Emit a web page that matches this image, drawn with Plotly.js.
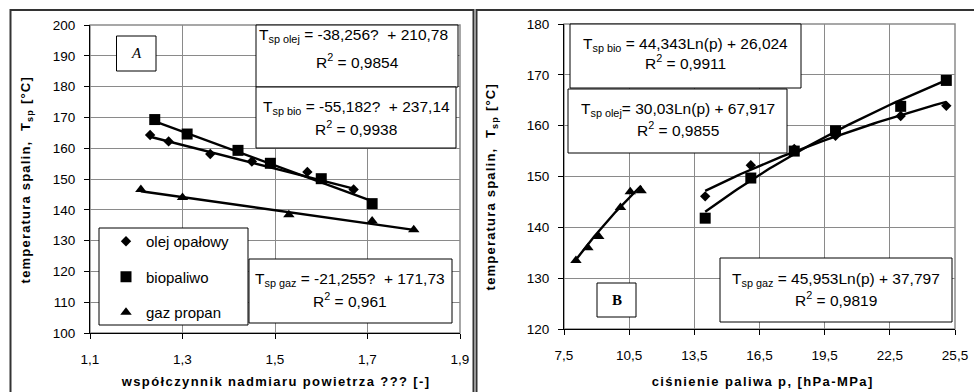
<!DOCTYPE html>
<html><head><meta charset="utf-8">
<script src="https://cdn.plot.ly/plotly-3.0.1.min.js"></script>
<style>
html,body{margin:0;padding:0;background:#fff;}
#chart{width:974px;height:392px;}
.annotation[data-index="0"] text, .annotation[data-index="1"] text{letter-spacing:1.2px;}
.annotation[data-index="2"] text, .annotation[data-index="3"] text{letter-spacing:1.4px;}
</style>
</head><body><div id="chart"></div>
<script>
// ---------- data ----------
const seriesNames = ['olej opałowy', 'biopaliwo', 'gaz propan'];

// panel A: excess air ratio vs flue gas temperature
const alphaOlej = [1.23, 1.27, 1.36, 1.45, 1.57, 1.67];
const tempOlejA = [164.3, 162.2, 158.1, 155.7, 152.3, 146.6];
const alphaBio  = [1.24, 1.31, 1.42, 1.49, 1.60, 1.71];
const tempBioA  = [169.3, 164.6, 159.3, 155.1, 150.1, 142.0];
const alphaGaz  = [1.21, 1.30, 1.53, 1.71, 1.80];
const tempGazA  = [146.6, 144.0, 138.4, 136.4, 133.5];

// panel B: fuel pressure vs flue gas temperature
const presOlej = [14.0, 16.1, 18.1, 20.0, 23.0, 25.1];
const tempOlejB = [146.1, 152.2, 155.4, 158.0, 161.9, 163.9];
const presBio  = [14.0, 16.1, 18.1, 20.0, 23.0, 25.1];
const tempBioB  = [141.8, 149.7, 155.0, 159.0, 163.8, 168.9];
const presGaz  = [8.05, 8.6, 9.1, 10.1, 10.55, 11.05];
const tempGazB  = [133.5, 136.0, 138.2, 143.9, 147.0, 147.2];

// trendline coefficients shown on the chart (olej, bio, gaz)
const linSlope = [-38.256, -55.182, -21.255];
const linIntercept = [210.78, 237.14, 171.73];
const logCoef = [30.03, 44.343, 45.953];
const logIntercept = [67.917, 26.024, 37.797];

// tick labels
const xTickValsA = [1.1, 1.3, 1.5, 1.7, 1.9];
const xTickTextA = ['1,1', '1,3', '1,5', '1,7', '1,9'];
const yTickValsA = [100, 110, 120, 130, 140, 150, 160, 170, 180, 190, 200];
const xTickValsB = [7.5, 10.5, 13.5, 16.5, 19.5, 22.5, 25.5];
const xTickTextB = ['7,5', '10,5', '13,5', '16,5', '19,5', '22,5', '25,5'];
const yTickValsB = [120, 130, 140, 150, 160, 170, 180];

// texts
const eqA = [
  ['T<sub>sp olej</sub> = -38,256?  + 210,78', 'R<sup>2</sup> = 0,9854'],
  ['T<sub>sp bio</sub> = -55,182?  + 237,14', 'R<sup>2</sup> = 0,9938'],
  ['T<sub>sp gaz</sub> = -21,255?  + 171,73', 'R<sup>2</sup> = 0,961']
];
const eqB = [
  ['T<sub>sp olej</sub>= 30,03Ln(p) + 67,917', 'R<sup>2</sup> = 0,9855'],
  ['T<sub>sp bio</sub> = 44,343Ln(p) + 26,024', 'R<sup>2</sup> = 0,9911'],
  ['T<sub>sp gaz</sub> = 45,953Ln(p) + 37,797', 'R<sup>2</sup> = 0,9819']
];
const yTitle = 'temperatura spalin,  T<sub>sp</sub> [°C]';
const xTitleA = 'współczynnik nadmiaru powietrza ??? [-]';
const xTitleB = 'ciśnienie paliwa p, [hPa-MPa]';
const panelLabels = ['A', 'B'];

// ---------- helpers ----------
const W = 974, H = 392;
const px = x => x / W;
const py = y => 1 - y / H;
const FONT = 'Liberation Sans, Arial, sans-serif';

function linTrend(xs, i) {
  const x0 = Math.min(...xs), x1 = Math.max(...xs);
  return {x: [x0, x1], y: [linSlope[i] * x0 + linIntercept[i], linSlope[i] * x1 + linIntercept[i]]};
}
function logTrend(xs, i) {
  const x0 = Math.min(...xs), x1 = Math.max(...xs);
  const x = [], y = [];
  for (let k = 0; k <= 60; k++) {
    const p = x0 + (x1 - x0) * k / 60;
    x.push(p); y.push(logCoef[i] * Math.log(p) + logIntercept[i]);
  }
  return {x, y};
}

const symbols = ['diamond', 'square', 'triangle-up'];
const sizes = [8, 11, 10];
const dataA = [[alphaOlej, tempOlejA], [alphaBio, tempBioA], [alphaGaz, tempGazA]];
const dataB = [[presOlej, tempOlejB], [presBio, tempBioB], [presGaz, tempGazB]];

const traces = [];
dataA.forEach((d, i) => {
  const t = linTrend(d[0], i);
  traces.push({x: t.x, y: t.y, mode: 'lines', line: {color: '#000', width: 2.4},
    showlegend: false, hoverinfo: 'skip', xaxis: 'x', yaxis: 'y'});
});
dataB.forEach((d, i) => {
  const t = logTrend(d[0], i);
  traces.push({x: t.x, y: t.y, mode: 'lines', line: {color: '#000', width: 2.4},
    showlegend: false, hoverinfo: 'skip', xaxis: 'x2', yaxis: 'y2'});
});
dataA.forEach((d, i) => {
  traces.push({x: d[0], y: d[1], mode: 'markers', name: seriesNames[i],
    marker: {symbol: symbols[i], size: sizes[i], color: '#000'},
    legendgroup: 'g' + i, showlegend: true, xaxis: 'x', yaxis: 'y'});
});
dataB.forEach((d, i) => {
  traces.push({x: d[0], y: d[1], mode: 'markers', name: seriesNames[i],
    marker: {symbol: symbols[i], size: sizes[i], color: '#000'},
    legendgroup: 'g' + i, showlegend: false, xaxis: 'x2', yaxis: 'y2'});
});

const tickFont = {family: FONT, size: 13.5, color: '#000'};
const axisCommon = {
  showgrid: true, gridcolor: '#8a8a8a', gridwidth: 1, zeroline: false,
  showline: true, linecolor: '#000', linewidth: 1,
  ticks: 'outside', ticklen: 5, tickcolor: '#000', tickfont: tickFont,
  fixedrange: true
};

function box(x0, y0, x1, y1) {
  return {type: 'rect', xref: 'paper', yref: 'paper', x0: px(x0), x1: px(x1), y0: py(y1), y1: py(y0),
    fillcolor: '#fff', line: {color: '#000', width: 1}, layer: 'above'};
}
function txt(text, x, y, size, extra) {
  return Object.assign({text, x: px(x), y: py(y), xref: 'paper', yref: 'paper',
    showarrow: false, xanchor: 'center', yanchor: 'middle',
    font: {family: FONT, size: size, color: '#000'}}, extra || {});
}

const shapes = [
  // outer frames
  {type: 'rect', xref: 'paper', yref: 'paper', x0: px(10.5), x1: px(473.5), y0: py(430), y1: py(10),
    line: {color: '#333', width: 2}, layer: 'below'},
  {type: 'rect', xref: 'paper', yref: 'paper', x0: px(476.5), x1: px(1010), y0: py(430), y1: py(10),
    line: {color: '#333', width: 2}, layer: 'below'},
  // plot area borders
  {type: 'rect', xref: 'x domain', yref: 'y domain', x0: 0, x1: 1, y0: 0, y1: 1,
    line: {color: '#8a8a8a', width: 1.5}, layer: 'below'},
  {type: 'rect', xref: 'x2 domain', yref: 'y2 domain', x0: 0, x1: 1, y0: 0, y1: 1,
    line: {color: '#8a8a8a', width: 1.5}, layer: 'below'},
  // panel A boxes
  box(116.5, 36, 156, 71),
  box(256, 25, 458, 87),
  box(256, 87, 456, 148),
  box(99, 228, 248, 325),
  box(249, 259, 452, 323),
  // panel B boxes
  box(570, 24, 801, 88),
  box(568, 89, 787, 153),
  box(720, 258, 952, 322),
  box(597, 283, 636, 317)
];

const annotations = [
  txt('<b>' + yTitle + '</b>', 27, 180, 13, {textangle: -90}),
  txt('<b>' + yTitle + '</b>', 491, 186, 13, {textangle: -90}),
  txt('<b>' + xTitleA + '</b>', 275, 381, 13),
  txt('<b>' + xTitleB + '</b>', 762, 381, 13),
  txt('<i>' + panelLabels[0] + '</i>', 136, 53, 15, {font: {family: 'Liberation Serif, Times New Roman, serif', size: 15, color: '#000'}}),
  txt('<b>' + panelLabels[1] + '</b>', 616.5, 300, 15, {font: {family: 'Liberation Serif, Times New Roman, serif', size: 15, color: '#000'}}),
  // panel A equations
  txt(eqA[0][0], 353, 35, 15.5), txt(eqA[0][1], 357, 61.5, 15.5),
  txt(eqA[1][0], 356, 108, 15.5), txt(eqA[1][1], 356, 128, 15.5),
  txt(eqA[2][0], 350, 279, 15.5), txt(eqA[2][1], 350, 299.5, 15.5),
  // panel B equations
  txt(eqB[1][0], 685, 44, 15.5), txt(eqB[1][1], 685, 62, 15.5),
  txt(eqB[0][0], 677.5, 109, 15.5), txt(eqB[0][1], 677.5, 128.5, 15.5),
  txt(eqB[2][0], 836, 279, 15.5), txt(eqB[2][1], 836, 298.5, 15.5)
];

const layout = {
  width: W, height: H,
  margin: {l: 0, r: 0, t: 0, b: 0},
  paper_bgcolor: '#fff', plot_bgcolor: '#fff',
  font: {family: FONT, color: '#000'},
  showlegend: true,
  legend: {x: px(106), y: py(225), xanchor: 'left', yanchor: 'top',
    bgcolor: 'rgba(0,0,0,0)', borderwidth: 0, traceorder: 'grouped', tracegroupgap: 13,
    font: {family: FONT, size: 15, color: '#000'}},
  xaxis: Object.assign({}, axisCommon, {domain: [px(90), px(460)], range: [1.1, 1.9],
    tickvals: xTickValsA, ticktext: xTickTextA, anchor: 'y', ticklabelstandoff: 9}),
  yaxis: Object.assign({}, axisCommon, {domain: [py(333), py(25)], range: [100, 200],
    tickvals: yTickValsA, ticktext: yTickValsA.map(String), anchor: 'x', ticklabelstandoff: 6}),
  xaxis2: Object.assign({}, axisCommon, {domain: [px(564), px(955)], range: [7.5, 25.5],
    tickvals: xTickValsB, ticktext: xTickTextB, anchor: 'y2', ticklabelstandoff: 9}),
  yaxis2: Object.assign({}, axisCommon, {domain: [py(329), py(24)], range: [120, 180],
    tickvals: yTickValsB, ticktext: yTickValsB.map(String), anchor: 'x2', ticklabelstandoff: 6}),
  shapes, annotations
};

Plotly.newPlot('chart', traces, layout, {staticPlot: true, displayModeBar: false});
</script></body></html>
